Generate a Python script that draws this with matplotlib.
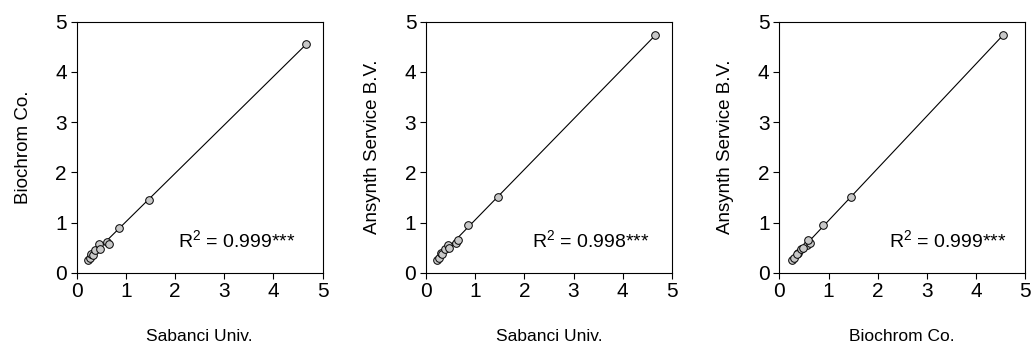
import numpy as np
import matplotlib
matplotlib.use('Agg')
import matplotlib.pyplot as plt

plt.rcParams['font.family'] = ['Liberation Sans', 'DejaVu Sans']
plt.rcParams['mathtext.fontset'] = 'custom'
plt.rcParams['mathtext.rm'] = 'Liberation Sans'
plt.rcParams['mathtext.it'] = 'Liberation Sans'

# values per sample
sabanci  = [0.22, 0.27, 0.30, 0.33, 0.38, 0.45, 0.47, 0.62, 0.65, 0.85, 1.46, 4.66]
biochrom = [0.25, 0.30, 0.38, 0.36, 0.45, 0.57, 0.48, 0.62, 0.58, 0.89, 1.45, 4.55]
ansynth  = [0.25, 0.29, 0.40, 0.37, 0.48, 0.55, 0.50, 0.60, 0.65, 0.95, 1.51, 4.73]

panels = [
    (sabanci, biochrom, 'Sabanci Univ.', 'Biochrom Co.', 'R$^2$ = 0.999***', 0.653),
    (sabanci, ansynth, 'Sabanci Univ.', 'Ansynth Service B.V.', 'R$^2$ = 0.998***', 0.672),
    (biochrom, ansynth, 'Biochrom Co.', 'Ansynth Service B.V.', 'R$^2$ = 0.999***', 0.686),
]
lefts = [0.0744, 0.4132, 0.7559]

fig = plt.figure(figsize=(10.31, 3.49), dpi=100)

for (xv, yv, xl, yl, r2, tx), left in zip(panels, lefts):
    ax = fig.add_axes([left, 0.2186, 0.2385, 0.7192])
    x = np.array(xv)
    y = np.array(yv)
    # regression line over the data range
    k, b = np.polyfit(x, y, 1)
    xs = np.array([x.min(), x.max()])
    ax.plot(xs, k * xs + b, color='black', lw=0.8, zorder=2)
    ax.plot(x, y, 'o', ms=5.5, mfc='#c8c8c8', mec='black', mew=0.7, zorder=3)

    ax.set_xlim(0, 5)
    ax.set_ylim(0, 5)
    ax.set_xticks(range(6))
    ax.set_yticks(range(6))
    ax.tick_params(direction='out', length=4, width=0.8, labelsize=15,
                   top=False, right=False, pad=3)
    for s in ax.spines.values():
        s.set_linewidth(0.8)
    ax.set_xlabel(xl, fontsize=12.5, labelpad=20)
    ax.set_ylabel(yl, fontsize=13.5, labelpad=17)
    ax.text(tx, 0.13, r2, transform=ax.transAxes, ha='center', va='center',
            fontsize=14)

plt.savefig('out.png', dpi=100)
